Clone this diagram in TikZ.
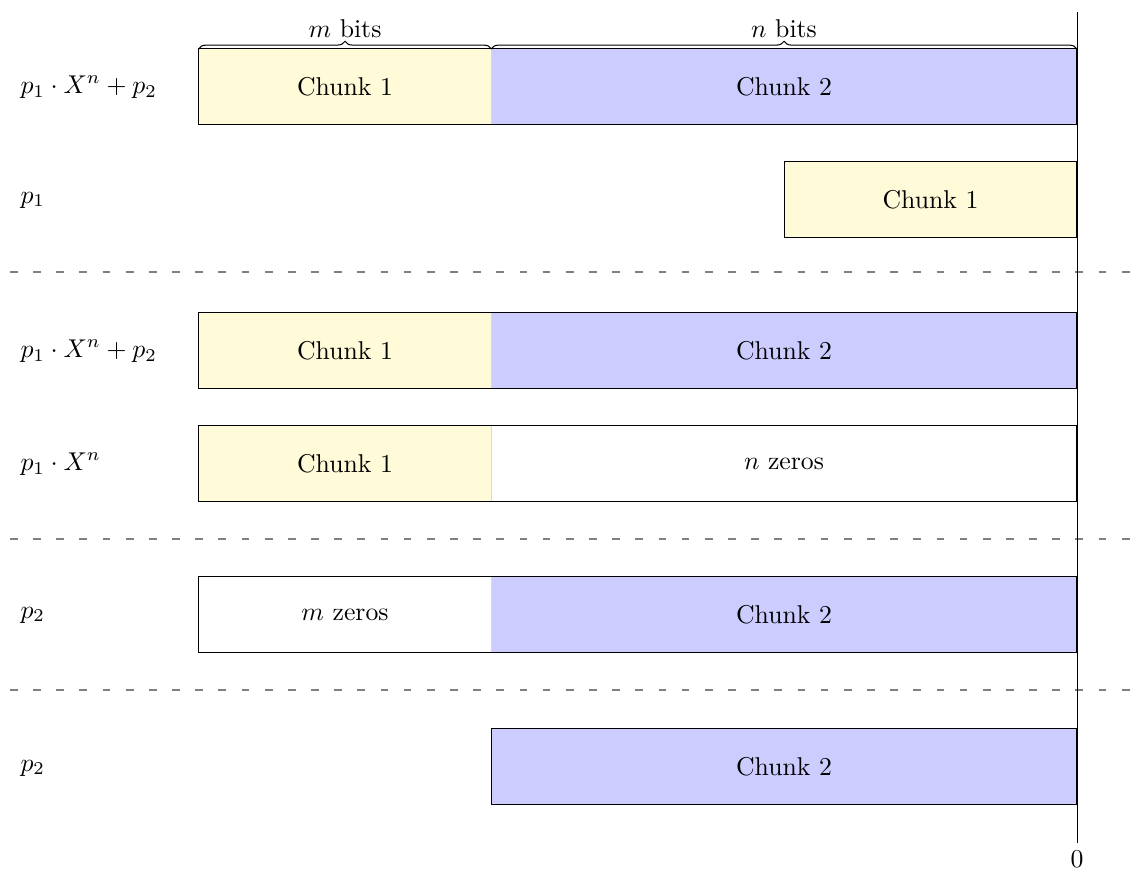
\documentclass[tikz,border=0pt]{standalone}
\usetikzlibrary{decorations.pathreplacing}
\definecolor{chunkA}{RGB}{255,250,215}
\definecolor{chunkB}{RGB}{204,204,255}
\tikzset{
  chunk/.style={minimum height=1.025cm, inner sep=0pt, outer sep=0pt, draw=black!15},
  wide/.style={chunk, minimum width=8cm},
  narrow/.style={chunk, minimum width=4cm},
  frame/.style={draw=black, line width=0.4pt},
  rowlabel/.style={anchor=west, inner sep=0pt},
  sep/.style={black!50, thick, loosely dashed},
  bitbrace/.style={decorate, decoration={brace, amplitude=3pt}},
}
\begin{document}
\begin{tikzpicture}[x=0.0136612cm, y=-0.0136612cm]
  \useasboundingbox (0,0) rectangle (1135,869);

  % row 1: p1 * X^n + p2
  \node[rowlabel] (l1) at (20,87) {$p_1 \cdot X^n + p_2$};
  \node[narrow, fill=chunkA] (r1a) at (345,86.5) {Chunk 1};
  \node[wide, fill=chunkB] (r1b) at (784,86.5) {Chunk 2};
  \draw[frame] (r1a.north west) rectangle (r1b.south east);
  \draw[bitbrace] (r1a.north west) -- (r1a.north east)
    node[midway, above=3pt, inner sep=1pt] (mb) {$m$ bits};
  \draw[bitbrace] (r1b.north west) -- (r1b.north east)
    node[midway, above=3pt, inner sep=1pt] (nb) {$n$ bits};

  % row 2: p1
  \node[rowlabel] (l2) at (20,200) {$p_1$};
  \node[narrow, fill=chunkA, draw=black] (r2a) at (930.5,199.5) {Chunk 1};

  \draw[sep] (10,272) -- (1145,272);

  % row 3: p1 * X^n + p2
  \node[rowlabel] (l3) at (20,351) {$p_1 \cdot X^n + p_2$};
  \node[narrow, fill=chunkA] (r3a) at (345,350.5) {Chunk 1};
  \node[wide, fill=chunkB] (r3b) at (784,350.5) {Chunk 2};
  \draw[frame] (r3a.north west) rectangle (r3b.south east);

  % row 4: p1 * X^n
  \node[rowlabel] (l4) at (20,464) {$p_1 \cdot X^n$};
  \node[narrow, fill=chunkA] (r4a) at (345,463.5) {Chunk 1};
  \node[wide, fill=white] (r4b) at (784,463.5) {$n$ zeros};
  \draw[frame] (r4a.north west) rectangle (r4b.south east);

  \draw[sep] (10,539) -- (1145,539);

  % row 5: p2
  \node[rowlabel] (l5) at (20,615) {$p_2$};
  \node[narrow, fill=white] (r5a) at (345,614.5) {$m$ zeros};
  \node[wide, fill=chunkB] (r5b) at (784,614.5) {Chunk 2};
  \draw[frame] (r5a.north west) rectangle (r5b.south east);

  \draw[sep] (10,690) -- (1145,690);

  % row 6: p2
  \node[rowlabel] (l6) at (20,768) {$p_2$};
  \node[wide, fill=chunkB, draw=black] (r6b) at (784,766.5) {Chunk 2};

  % position of bit 0
  \coordinate (axtop) at (1077,12);
  \coordinate (axbot) at (1077,843);
  \draw[line width=0.4pt] (axtop) -- (axbot);
  \node[below=2pt, inner sep=1pt] (zero) at (axbot) {$0$};
\end{tikzpicture}
\end{document}
